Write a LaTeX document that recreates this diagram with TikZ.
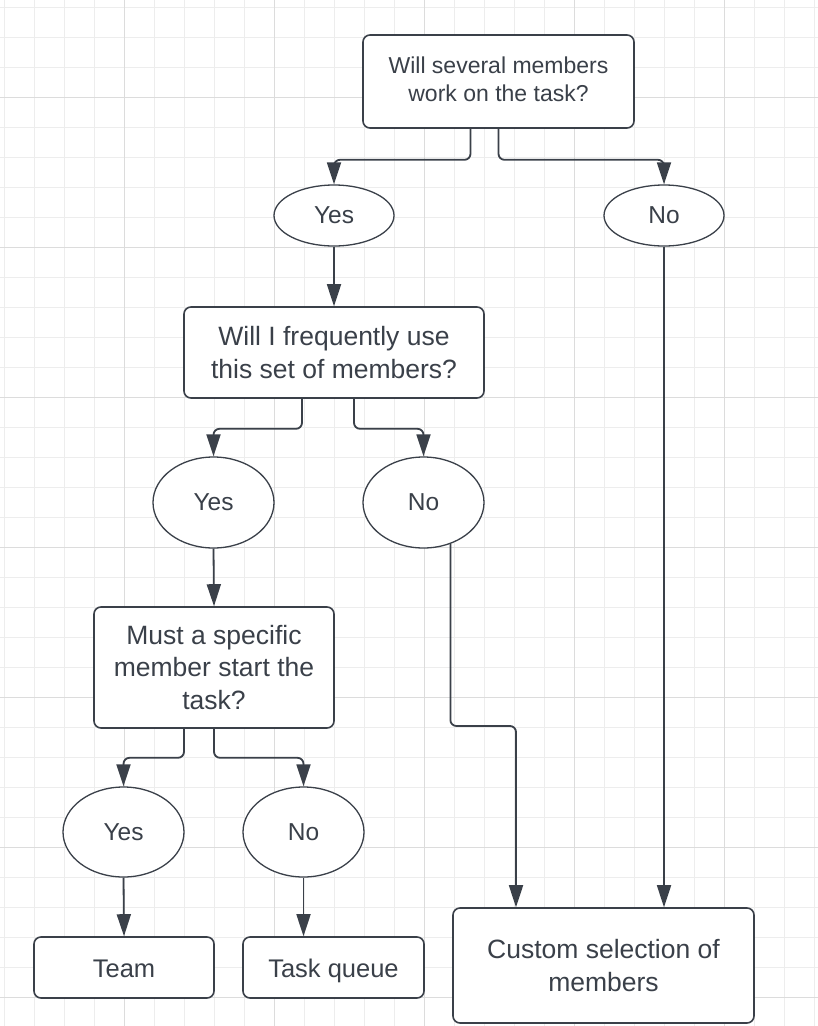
\documentclass[tikz,border=0pt]{standalone}
\usepackage{fontspec}
\setmainfont{Liberation Sans}
\usetikzlibrary{arrows.meta,shapes.geometric}
\definecolor{ink}{HTML}{3A4049}
\definecolor{gridminor}{HTML}{EDEDED}
\definecolor{gridmajor}{HTML}{DCDCDC}
\tikzset{
  box/.style={draw=ink, line width=1.6pt, rounded corners=7pt, fill=white, text=ink, inner sep=0pt},
  boxml/.style={box, align=center},
  oval/.style={draw=ink, line width=1.3pt, ellipse, fill=white, text=ink, inner sep=0pt, font=\fontsize{24.5}{29}\selectfont},
  arr/.style={draw=ink, line width=1.8pt, rounded corners=6pt, -{Triangle[length=22pt,width=14pt]}},
  big/.style={font=\fontsize{26.5}{32.5}\selectfont},
}
\begin{document}
\begin{tikzpicture}[x=1pt,y=-1pt]
\useasboundingbox (0,0) rectangle (818,1026);
\fill[white] (0,0) rectangle (818,1026);
% grid
\foreach \i in {0,...,27} {\draw[gridminor, line width=1pt] (4+30*\i,0) -- (4+30*\i,1026);}
\foreach \i in {0,...,33} {\draw[gridminor, line width=1pt] (0,7+30*\i) -- (818,7+30*\i);}
\foreach \x in {124,274,424,574,724} {\draw[gridmajor, line width=1pt] (\x,0) -- (\x,1026);}
\foreach \y in {97,247,397,547,697,847,997} {\draw[gridmajor, line width=1pt] (0,\y) -- (818,\y);}
% nodes
\node[boxml, minimum width=271, minimum height=93, font=\fontsize{23}{27.5}\selectfont] (top) at (498.5,81.5) {Will several members\\work on the task?\vphantom{g}};
\node[oval, minimum width=120, minimum height=61] (yes1) at (334,215.5) {Yes};
\node[oval, minimum width=120, minimum height=61] (no1) at (664,215.5) {No};
\node[boxml, big, minimum width=300, minimum height=91] (q2) at (334,352.5) {Will I frequently use\\this set of members?};
\node[oval, minimum width=121, minimum height=91] (yes2) at (213.5,502.5) {Yes};
\node[oval, minimum width=121, minimum height=91] (no2) at (423.5,502.5) {No};
\node[boxml, big, minimum width=240, minimum height=121] (q3) at (214,667.5) {Must a specific\\member start the\\task?};
\node[oval, minimum width=121, minimum height=90] (yes3) at (123.5,832) {Yes};
\node[oval, minimum width=121, minimum height=90] (no3) at (303.5,832) {No};
\node[box, minimum width=180, minimum height=61, text height=19pt, text depth=0pt, font=\fontsize{25.5}{30}\selectfont] (team) at (124,967.5) {Team};
\node[box, minimum width=181, minimum height=61, text height=19pt, text depth=0pt, font=\fontsize{25.5}{30}\selectfont] (taskq) at (333.5,967.5) {Task queue};
\node[boxml, big, minimum width=301, minimum height=115] (custom) at (603.5,965.5) {Custom selection of\\members};
% connectors
\draw[arr] ([xshift=-28pt]top.south) -- ++(0,31) -| (yes1.north);
\draw[arr] (top.south) -- ++(0,31) -| (no1.north);
\draw[arr] (yes1.south) -- (q2.north);
\draw[arr] ([xshift=-32pt]q2.south) -- ++(0,30) -| (yes2.north);
\draw[arr] ([xshift=20pt]q2.south) -- ++(0,30) -| (no2.north);
\draw[arr] (yes2.south) -- (q3.north);
\draw[arr] ([xshift=-30pt]q3.south) -- ++(0,29) -| (yes3.north);
\draw[arr] (q3.south) -- ++(0,29) -| (no3.north);
\draw[arr] (yes3.south) -- (team.north);
\draw[arr] (no3.south) -- (no3.south |- taskq.north);
\draw[arr] (no1.south) -- (no1.south |- custom.north);
\coordinate (cin) at ([xshift=-87.5pt]custom.north);
\draw[arr] (no2.-57) -- (no2.-57 |- 0,726) -| (cin);
\end{tikzpicture}
\end{document}
